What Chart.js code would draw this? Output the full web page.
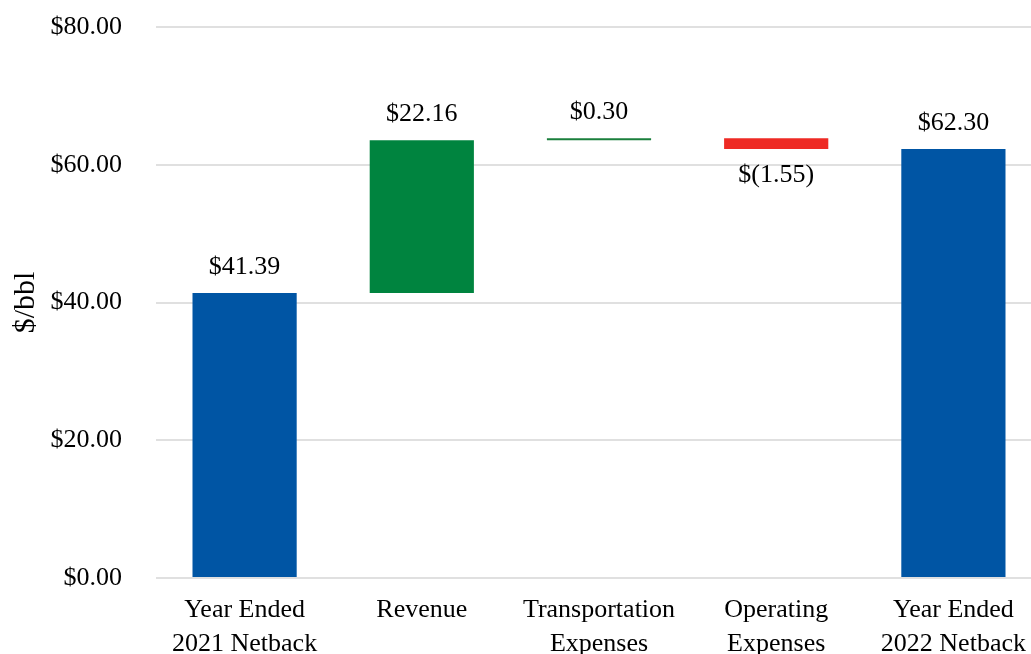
<!DOCTYPE html>
<html>
<head>
<meta charset="utf-8">
<script src="https://cdn.jsdelivr.net/npm/chart.js@4"></script>
<style>
    html, body { margin: 0; padding: 0; background: #fff; overflow: hidden; }
    #wrap { width: 1042px; height: 654px; }
</style>
</head>
<body>
<div id="wrap"><canvas id="netback-chart"></canvas></div>
<script>
const categories = [
    ['Year Ended', '2021 Netback'],
    'Revenue',
    ['Transportation', 'Expenses'],
    ['Operating', 'Expenses'],
    ['Year Ended', '2022 Netback']
];
const changes = [41.39, 22.16, 0.30, -1.55, 62.30];
const isTotal = [true, false, false, false, true];
const barColors = ['#0055a4', '#00843f', '#1a7f3c', '#ee2a24', '#0055a4'];
const yTicks = [0, 20, 40, 60, 80];

// floating bars: totals start at zero, changes start at the running sum
let running = 0;
const ranges = changes.map(function(v, i) {
    if (isTotal[i]) {
        running = v;
        return [0, v];
    }
    const start = running;
    running = running + v;
    return [start, running];
});

function money(v) {
    return v < 0 ? '$(' + Math.abs(v).toFixed(2) + ')' : '$' + v.toFixed(2);
}

const fontFamily = '"Liberation Serif", "Times New Roman", serif';

const barLabels = {
    id: 'barLabels',
    afterDatasetsDraw(chart) {
        const ctx = chart.ctx;
        const meta = chart.getDatasetMeta(0);
        ctx.save();
        ctx.font = '26px ' + fontFamily;
        ctx.fillStyle = '#000';
        ctx.textAlign = 'center';
        ctx.textBaseline = 'middle';
        meta.data.forEach(function(bar, i) {
            const v = changes[i];
            const top = Math.min(bar.y, bar.base);
            const bottom = Math.max(bar.y, bar.base);
            if (v >= 0) {
                ctx.fillText(money(v), bar.x, top - 26);
            } else {
                ctx.fillText(money(v), bar.x, bottom + 26);
            }
        });
        ctx.restore();
    }
};

const ctx = document.getElementById('netback-chart').getContext('2d');
new Chart(ctx, {
    type: 'bar',
    data: {
        labels: categories,
        datasets: [{
            data: ranges,
            backgroundColor: barColors,
            borderWidth: 0,
            categoryPercentage: 1,
            barPercentage: 0.588
        }]
    },
    options: {
        responsive: true,
        maintainAspectRatio: false,
        animation: false,
        layout: { padding: { top: 27, right: 0, bottom: 0, left: 0 } },
        plugins: {
            legend: { display: false },
            tooltip: { enabled: false }
        },
        scales: {
            x: {
                grid: { display: false, drawTicks: false },
                border: { display: false },
                ticks: {
                    color: '#000',
                    padding: 15,
                    maxRotation: 0,
                    autoSkip: false,
                    font: { family: fontFamily, size: 26, lineHeight: 1.3 }
                },
                afterFit(axis) { axis.height = 76; }
            },
            y: {
                min: 0,
                max: 80,
                afterBuildTicks(axis) {
                    axis.ticks = yTicks.map(function(v) { return { value: v }; });
                },
                grid: { color: '#e0e0e0', lineWidth: 2, drawTicks: false },
                border: { display: false },
                ticks: {
                    color: '#000',
                    padding: 34,
                    font: { family: fontFamily, size: 26 },
                    callback: function(v) { return money(v); }
                },
                title: {
                    display: true,
                    text: '$/bbl',
                    color: '#000',
                    padding: { top: 8, bottom: 0 },
                    font: { family: fontFamily, size: 30 }
                },
                afterFit(axis) {
                    axis.width = 156;
                    axis.paddingTop = 0;
                    axis.paddingBottom = 0;
                }
            }
        }
    },
    plugins: [barLabels]
});
</script>
</body>
</html>
